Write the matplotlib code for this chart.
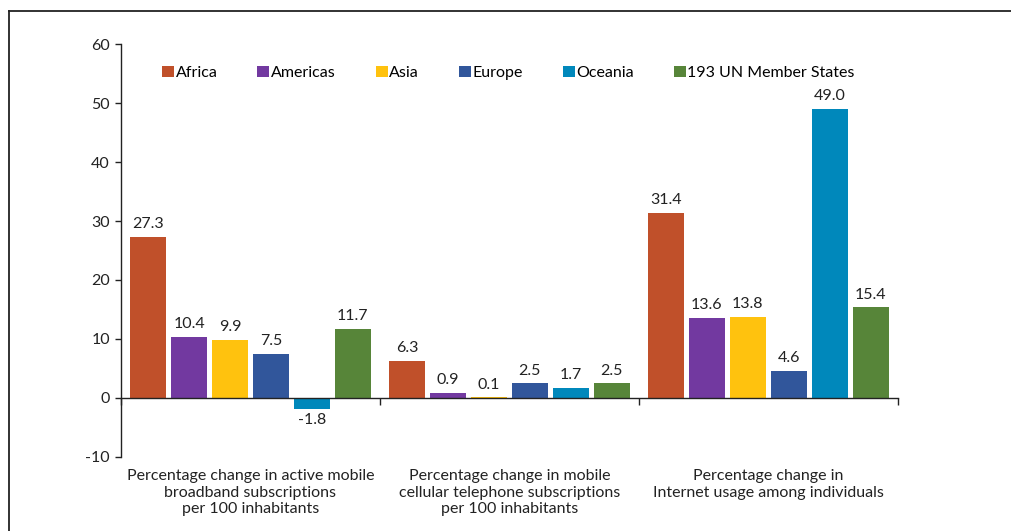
import numpy as np
import matplotlib.pyplot as plt
from matplotlib.patches import Patch

# data
groups = ["Percentage change in active mobile\nbroadband subscriptions\nper 100 inhabitants",
          "Percentage change in mobile\ncellular telephone subscriptions\nper 100 inhabitants",
          "Percentage change in\nInternet usage among individuals"]
regions = ["Africa", "Americas", "Asia", "Europe", "Oceania", "193 UN Member States"]
africa = [27.3, 6.3, 31.4]
americas = [10.4, 0.9, 13.6]
asia = [9.9, 0.1, 13.8]
europe = [7.5, 2.5, 4.6]
oceania = [-1.8, 1.7, 49.0]
un_states = [11.7, 2.5, 15.4]
yticks = [-10, 0, 10, 20, 30, 40, 50, 60]

colors = ["#C0502A", "#7239A0", "#FFC20E", "#31569B", "#0088BB", "#578539"]
series = [africa, americas, asia, europe, oceania, un_states]

plt.rcParams['font.family'] = ['Lato', 'DejaVu Sans']
plt.rcParams['font.size'] = 11.5
plt.rcParams['axes.unicode_minus'] = False
txt = "#222222"

fig = plt.figure(figsize=(10.11, 5.31), dpi=100)
ax = fig.add_axes([0.1197, 0.1394, 0.888 - 0.1197, 0.9171 - 0.1394])

# frame lines around the figure (top and left only)
fig.add_artist(plt.Line2D([9 / 1011, 1], [1 - 11 / 531, 1 - 11 / 531], color="#222222", lw=1.3))
fig.add_artist(plt.Line2D([9 / 1011, 9 / 1011], [0, 1 - 11 / 531], color="#222222", lw=1.3))

x = np.arange(len(groups)) + 0.5
step = 0.158
width = 0.139
for i, (vals, col) in enumerate(zip(series, colors)):
    pos = x + (i - 2.5) * step
    bars = ax.bar(pos, vals, width, color=col, linewidth=0, label=regions[i], zorder=2)
    for b, v in zip(bars, vals):
        if v >= 0:
            ax.annotate(f"{v:.1f}", (b.get_x() + b.get_width() / 2, v), xytext=(0, 4),
                        textcoords="offset points", ha="center", va="bottom", color=txt)
        else:
            ax.annotate(f"{v:.1f}", (b.get_x() + b.get_width() / 2, v), xytext=(0, -3),
                        textcoords="offset points", ha="center", va="top", color=txt)

ax.set_xlim(0, 3)
ax.set_ylim(-10, 60)
ax.set_yticks(yticks)
ax.tick_params(axis="y", direction="out", length=4, width=1, colors="#222222", labelcolor=txt, pad=4)

ax.spines["top"].set_visible(False)
ax.spines["right"].set_visible(False)
ax.spines["bottom"].set_position(("data", 0))
for s in ("left", "bottom"):
    ax.spines[s].set_color("#222222")
    ax.spines[s].set_linewidth(1)
ax.set_xticks([0, 1, 2, 3])
ax.set_xticklabels([])
ax.tick_params(axis="x", direction="out", length=5, width=1, colors="#222222")

for xc, g in zip(x, groups):
    ax.text(xc, -12.0, g, ha="center", va="top", color=txt, linespacing=1.26)

handles = [Patch(facecolor=c, label=r) for c, r in zip(colors, regions)]
fig.legend(handles=handles, loc="center left", bbox_to_anchor=(162 / 1011, 1 - 73 / 531),
           ncol=6, frameon=False, handlelength=0.75, handleheight=0.75, handletextpad=0.1,
           columnspacing=2.5, borderpad=0, borderaxespad=0)

fig.savefig("out.png", dpi=100)
